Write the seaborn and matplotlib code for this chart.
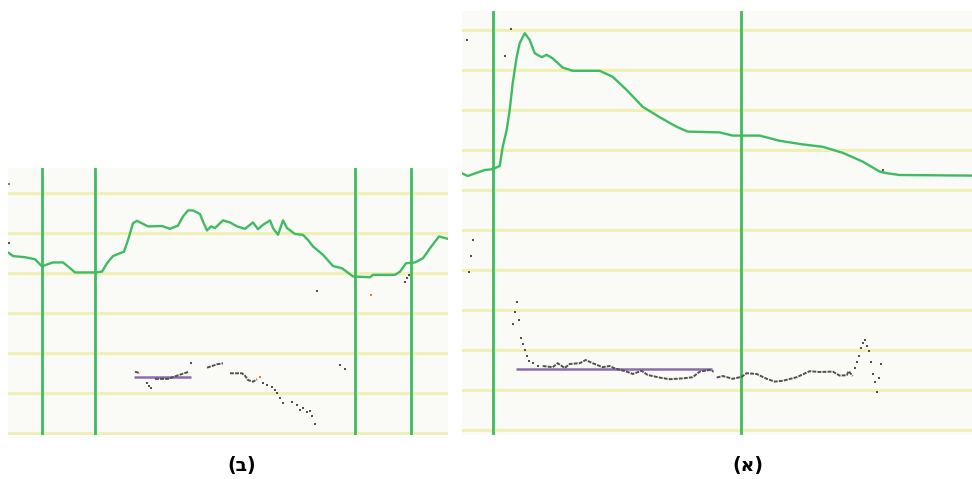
import numpy as np
import pandas as pd
import matplotlib
matplotlib.use("Agg")
import matplotlib.pyplot as plt
import seaborn as sns

# ---- panel (א): recording on the right ----
a_curve_x = [0, 6, 15, 23, 31, 38, 41, 45, 48, 51, 55, 58, 63, 68, 73, 80, 85, 91, 101, 111,
             138, 151, 165, 181, 198, 215, 226, 258, 271, 298, 318, 341, 361, 381, 401, 418,
             425, 438, 510]
a_curve_y = [64.2, 63.5, 64.3, 65.0, 65.2, 66.0, 70.8, 75.0, 80.0, 86.7, 93.3, 96.7, 99.2, 97.5,
             94.2, 93.2, 93.8, 92.9, 90.6, 89.8, 89.8, 88.3, 85.0, 80.8, 78.2, 75.8, 74.6, 74.4,
             73.6, 73.6, 72.3, 71.4, 70.8, 69.3, 67.1, 64.6, 64.2, 63.75, 63.6]
a_trace_x = [81, 91, 96, 103, 108, 118, 124, 131, 141, 148, 153, 165, 171, 180, 186, 198, 208,
             221, 231, 238, 248, 252, np.nan, 255, 261, 271, 280, 285, 295, 305, 313, 321, 335,
             348, 358, 371, 378, 385, 387, 391]
a_trace_y = [16.0, 15.7, 16.7, 15.5, 16.5, 16.7, 17.5, 16.7, 15.7, 16.0, 15.4, 14.6, 14.0, 14.8,
             13.75, 13.1, 12.7, 12.9, 13.2, 14.6, 15.0, 14.6, np.nan, 13.1, 13.5, 12.8, 13.3,
             14.2, 14.0, 12.8, 12.1, 12.3, 13.2, 14.7, 14.5, 14.6, 13.6, 13.7, 14.7, 13.5]
a_dots_x = [5, 49, 43, 11, 9, 7, 51, 53, 55, 57, 59, 61, 63, 65, 67, 71, 76,
            393, 395, 397, 399, 401, 403, 405, 407, 409, 411, 413, 415, 417, 419, 421]
a_dots_y = [97.5, 100.2, 93.5, 47.5, 43.5, 39.6, 26.5, 29.6, 32.1, 27.5, 23.1, 21.5, 20.0, 18.5,
            17.3, 16.7, 16.1, 15.5, 17.1, 18.5, 20.4, 21.7, 22.5, 21.1, 19.7, 17.1, 14.0, 12.1,
            9.6, 13.1, 16.5, 65.0]
a_markers = [31, 279]
a_ref_x = [54, 250]
a_ref_y = [15.2, 15.2]

# ---- panel (ב): recording on the left ----
b_curve_x = [0, 5, 17, 27, 34, 39, 45, 55, 60, 67, 87, 94, 99, 105, 116, 120, 125, 129, 140,
             154, 162, 170, 175, 180, 185, 192, 195, 199, 203, 207, 215, 222, 229, 237, 245,
             250, 255, 262, 265, 270, 275, 279, 287, 295, 300, 305, 315, 325, 334, 345, 362,
             365, 387, 392, 398, 407, 415, 422, 431, 440]
b_curve_y = [45.2, 44.3, 44.0, 43.5, 41.7, 42.2, 42.7, 42.7, 41.7, 40.2, 40.2, 40.4, 42.5, 44.3,
             45.4, 48.3, 52.5, 53.1, 51.7, 51.8, 51.1, 51.9, 54.2, 55.7, 55.7, 54.8, 52.9, 50.7,
             51.7, 51.3, 53.2, 52.7, 51.7, 51.1, 52.7, 51.0, 52.1, 53.2, 51.3, 49.6, 53.2, 51.3,
             49.8, 49.6, 48.3, 46.7, 44.6, 41.8, 41.25, 39.2, 39.0, 39.6, 39.6, 40.4, 42.5,
             42.7, 43.75, 46.25, 49.2, 48.6]
b_trace_x = [127, 132, np.nan, 147, 152, 157, 160, 169, 181, np.nan, 199, 204, 209, 215, np.nan,
             222, 229, 234, 237, 240, 245, 249]
b_trace_y = [15.4, 15.0, np.nan, 13.6, 13.6, 13.6, 13.6, 14.4, 15.4, np.nan, 16.4, 16.8, 17.25,
             17.5, np.nan, 15.0, 15.0, 15.0, 14.4, 13.3, 12.9, 13.5]
b_dots_x = [139, 141, 143, 183, 255, 259, 264, 267, 269, 272, 275, 284, 289, 292, 295, 299, 302,
            304, 307, 332, 337, 1, 309, 397, 399, 401]
b_dots_y = [12.5, 11.9, 11.4, 17.5, 12.5, 12.1, 11.65, 10.8, 10.0, 8.75, 7.5, 7.9, 7.1, 5.8,
            6.25, 5.4, 5.6, 4.3, 2.3, 17.1, 16.0, 47.65, 35.6, 37.9, 38.75, 39.6]
b_odd_x = [252, 363]
b_odd_y = [14.0, 34.6]
b_start_x = [1]
b_start_y = [62.25]
b_markers = [34, 87, 347, 403]
b_ref_x = [126, 183]
b_ref_y = [14.0, 14.0]

panel_labels = ["(ב)", "(א)"]

GREEN = "#3fbb62"
GRID = "#eef0b4"
FACE = "#fafaf7"
TRACE = "#505050"
PURPLE = "#8c6cae"
ORANGE = "#f07050"

sns.set_style("white")
plt.rcParams["font.family"] = ["DejaVu Sans"]

W, H = 972, 479
fig = plt.figure(figsize=(W / 100, H / 100), dpi=100)
fig.patch.set_facecolor("white")


def px_axes(x0, y0, x1, y1):
    return fig.add_axes([x0 / W, 1 - y1 / H, (x1 - x0) / W, (y1 - y0) / H])


def style(ax, xmax, ylo, yhi, gridmax):
    ax.set_facecolor(FACE)
    ax.set_xlim(0, xmax)
    ax.set_ylim(ylo, yhi)
    for s in ax.spines.values():
        s.set_visible(False)
    ax.set_yticks(np.arange(0, gridmax + 1, 10))
    ax.set_xticks([])
    ax.tick_params(left=False, labelleft=False, bottom=False, labelbottom=False)
    ax.grid(axis="y", color=GRID, lw=2.2)
    ax.set_axisbelow(True)
    ax.set_xlabel("")
    ax.set_ylabel("")


def draw(ax, cx, cy, tx, ty, dx, dy, markers, rx, ry):
    for m in markers:
        ax.axvline(m, color=GREEN, lw=2.0, zorder=2)
    sns.lineplot(x=cx, y=cy, ax=ax, color=GREEN, lw=1.7, sort=False,
                 estimator=None, zorder=3)
    ax.plot(rx, ry, color=PURPLE, lw=1.8, zorder=3, solid_capstyle="butt")
    ax.plot(tx, ty, color=TRACE, lw=1.4, ls=(0, (2, 0.6)), zorder=4)
    sns.scatterplot(x=dx, y=dy, ax=ax, color=TRACE, marker="s", s=4.5,
                    linewidth=0, zorder=4)


# left panel (ב)
axb = px_axes(8, 168, 447.7, 434.5)
draw(axb, b_curve_x, b_curve_y, b_trace_x, b_trace_y, b_dots_x, b_dots_y,
     b_markers, b_ref_x, b_ref_y)
sns.scatterplot(x=b_odd_x, y=b_odd_y, ax=axb, color=ORANGE, marker="s", s=4.5,
                linewidth=0, zorder=5)
sns.scatterplot(x=b_start_x, y=b_start_y, ax=axb, color=PURPLE, marker="s", s=3.5,
                linewidth=0, zorder=5)
style(axb, 439.7, -0.3, 66.3, 60)

# right panel (א)
axa = px_axes(461.7, 11, 972, 435)
draw(axa, a_curve_x, a_curve_y, a_trace_x, a_trace_y, a_dots_x, a_dots_y,
     a_markers, a_ref_x, a_ref_y)
style(axa, 510.3, -1.25, 104.75, 100)

fig.text(242 / W, 1 - 466 / H, panel_labels[0], ha="center", va="center",
         fontsize=13.5, fontweight="bold", color="black")
fig.text(748 / W, 1 - 466 / H, panel_labels[1], ha="center", va="center",
         fontsize=13.5, fontweight="bold", color="black")

fig.savefig("out.png", dpi=100, facecolor="white")
